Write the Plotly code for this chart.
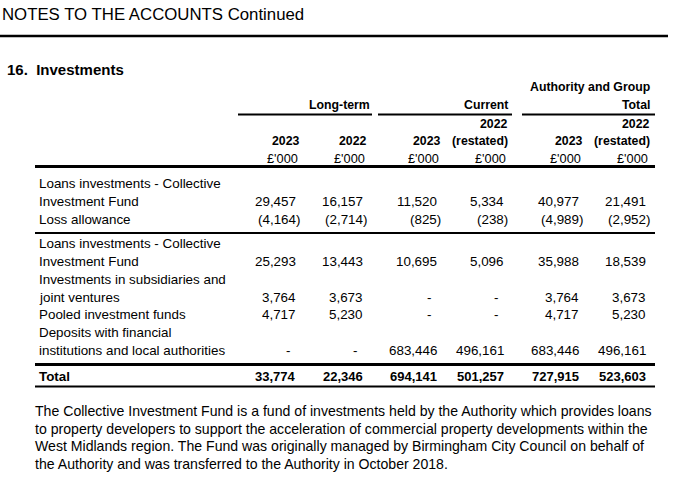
import plotly.graph_objects as go

# ---- data ----
row_labels = [
    ["Loans investments - Collective", "Investment Fund"],
    ["Loss allowance"],
    ["Loans investments - Collective", "Investment Fund"],
    ["Investments in subsidiaries and", "joint ventures"],
    ["Pooled investment funds"],
    ["Deposits with financial", "institutions and local authorities"],
]
long_term_2023 = [29457, -4164, 25293, 3764, 4717, None]
long_term_2022 = [16157, -2714, 13443, 3673, 5230, None]
current_2023 = [11520, -825, 10695, None, None, 683446]
current_2022 = [5334, -238, 5096, None, None, 496161]
total_2023 = [40977, -4989, 35988, 3764, 4717, 683446]
total_2022 = [21491, -2952, 18539, 3673, 5230, 496161]
totals_row = [33774, 22346, 694141, 501257, 727915, 523603]

group_headers = ["Long-term", "Current", "Total"]
col_year_top = ["", "", "", "2022", "", "2022"]
col_year = ["2023", "2022", "2023", "(restated)", "2023", "(restated)"]
col_unit = ["£'000"] * 6

title_text = "NOTES TO THE ACCOUNTS Continued"
section_text = "16.  Investments"
note_lines = [
    "The Collective Investment Fund is a fund of investments held by the Authority which provides loans",
    "to property developers to support the acceleration of commercial property developments within the",
    "West Midlands region. The Fund was originally managed by Birmingham City Council on behalf of",
    "the Authority and was transferred to the Authority in October 2018.",
]

# ---- layout constants (pixel space) ----
NARROW = "Liberation Sans Narrow, Arial Narrow, Liberation Sans, Arial, sans-serif"
REG = "Liberation Sans, Arial, sans-serif"
col_right = [302, 369, 443, 510, 585, 652]
label_x = 37
line_ys = [[183, 201], [219], [243, 261], [279, 297], [314], [332, 350]]
value_y = [201, 219, 261, 297, 314, 350]
TS = 13.4   # table font size
HS = 12.3   # header font size

series = [long_term_2023, long_term_2022, current_2023, current_2022, total_2023, total_2022]


def fmt(v):
    if v is None:
        return "-"
    if v < 0:
        return "({:,})".format(-v)
    return "{:,}".format(v)


ann = []


def text(x, y, s, size, family, anchor="left", bold=False, color="#000"):
    ann.append(dict(x=x, y=y, xref="x", yref="y", text=("<b>%s</b>" % s) if bold else s,
                    showarrow=False, xanchor=anchor, yanchor="middle",
                    font=dict(size=size, family=family, color=color)))


text(0, 14, title_text, 16.8, REG)
text(5, 69, section_text, 15, REG, bold=True)

# group headers
text(652, 87, "Authority and Group", HS, NARROW, "right", True)
grp_right = [372, 510, 652]
for i, g in enumerate(group_headers):
    text(grp_right[i], 105, g, HS, NARROW, "right", True)

for j in range(6):
    if col_year_top[j]:
        text(col_right[j], 124, col_year_top[j], HS, NARROW, "right", True)
    text(col_right[j], 141, col_year[j], HS, NARROW, "right", True)
    text(col_right[j] - 2, 158, col_unit[j], HS + 0.5, NARROW, "right")

for i, lines in enumerate(row_labels):
    for k, ln in enumerate(lines):
        text(label_x, line_ys[i][k], ln, TS, NARROW)
    for j, s in enumerate(series):
        v = s[i]
        off = 0 if (v is not None and v < 0) else (4 if v is not None else 10)
        text(col_right[j] - off, value_y[i], fmt(v), TS, NARROW, "right")

text(label_x, 376, "Total", TS, NARROW, bold=True)
for j, v in enumerate(totals_row):
    text(col_right[j] - 4, 376, fmt(v), 13, NARROW, "right", True)

for k, ln in enumerate(note_lines):
    text(33, 411 + k * 17.5, ln, 14.1, NARROW)

# lines
shapes = []


def hline(x0, x1, y, w):
    shapes.append(dict(type="line", xref="x", yref="y", x0=x0, x1=x1, y0=y, y1=y,
                       line=dict(color="#000", width=w)))


hline(0, 668, 36, 2.5)
hline(238, 372, 114.5, 2)
hline(378, 512, 114.5, 2)
hline(522, 655, 114.5, 2)
hline(35, 655, 166.5, 3)
hline(35, 655, 233, 2)
hline(35, 655, 364.5, 3)
hline(35, 655, 386.5, 2)

fig = go.Figure()
fig.add_trace(go.Scatter(x=[0, 680], y=[0, 481], mode="markers", marker=dict(opacity=0),
                         hoverinfo="skip", showlegend=False))
fig.update_layout(
    width=680, height=481, margin=dict(l=0, r=0, t=0, b=0),
    paper_bgcolor="white", plot_bgcolor="white",
    xaxis=dict(range=[0, 680], visible=False, fixedrange=True),
    yaxis=dict(range=[481, 0], visible=False, fixedrange=True),
    annotations=ann, shapes=shapes, showlegend=False,
)
fig.write_html("out.html", config={"displayModeBar": False, "staticPlot": True},
               post_script="document.body.style.margin='0px';document.body.style.overflow='hidden';")
